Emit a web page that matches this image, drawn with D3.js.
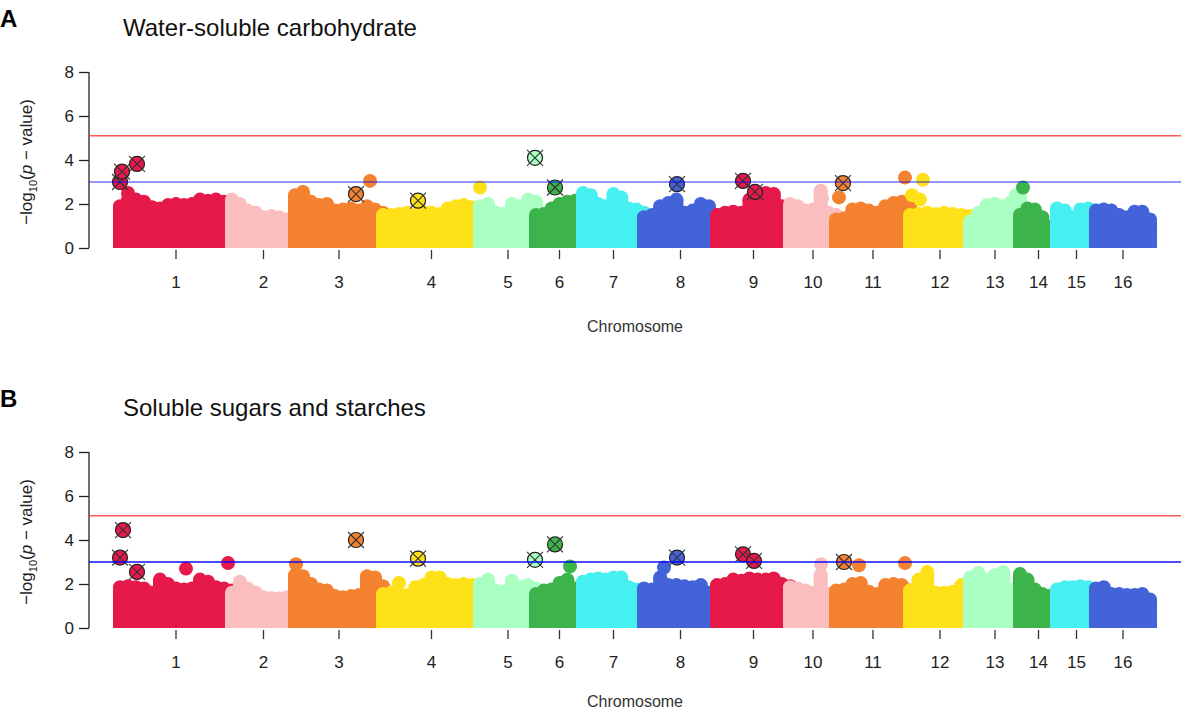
<!DOCTYPE html>
<html>
<head>
<meta charset="utf-8">
<script src="https://cdn.jsdelivr.net/npm/d3@7"></script>
<style>
  body { margin: 0; background: #fff; }
  text { font-family: "Liberation Sans", Arial, sans-serif; }
</style>
</head>
<body>
<script>
// chromosome names and lengths (Mb)
var chrNames = ["1","2","3","4","5","6","7","8","9","10","11","12","13","14","15","16"];
var chrLength = [112, 63, 88, 97, 56, 47, 61, 73, 73, 46, 74, 60, 50, 37, 39, 54];
var chrColors = ["#e6194b", "#fabebe", "#f58231", "#ffe119", "#aaffc3", "#3cb44b", "#46f0f0", "#4363d8"];
var yTicks = [0, 2, 4, 6, 8];
var redLine = 5.1;
var blueLine = 3.0;

// A: water-soluble carbohydrate, top of the point cloud along each chromosome
var wscEnvelope = [
    [1.9, 2.2, 2.2, 2.1, 1.85, 1.8, 1.95, 2.0, 1.95, 2.0, 2.2, 2.15, 2.2, 2.1, 1.9],
    [2.2, 2.0, 1.7, 1.6, 1.4, 1.45, 1.4, 1.3, 1.2],
    [2.4, 2.55, 2.1, 1.95, 2.0, 1.7, 1.75, 1.8, 1.7, 1.9, 1.75, 1.6],
    [1.5, 1.5, 1.55, 1.6, 1.5, 1.65, 1.6, 1.55, 1.8, 1.9, 1.95, 1.85, 1.7],
    [1.9, 2.0, 1.6, 1.55, 2.0, 1.9, 2.2, 2.1],
    [1.5, 1.55, 1.8, 2.0, 2.1, 2.15, 1.9],
    [2.5, 2.4, 2.0, 1.9, 2.45, 2.3, 1.8, 1.75, 1.6],
    [1.4, 1.5, 1.9, 2.05, 2.2, 1.6, 1.7, 2.0, 1.9, 1.5],
    [1.5, 1.6, 1.65, 1.6, 2.2, 2.4, 2.5, 2.45, 1.9, 1.7],
    [2.0, 1.9, 1.7, 1.75, 2.6, 1.6, 1.5],
    [1.3, 1.35, 1.75, 1.8, 1.7, 1.6, 1.9, 2.05, 2.1, 1.9],
    [1.5, 1.55, 1.6, 1.55, 1.6, 1.55, 1.5, 1.45],
    [1.2, 1.6, 1.95, 2.0, 1.9, 2.1, 2.35],
    [1.5, 1.8, 1.75, 1.4, 0.95, 1.0],
    [1.8, 1.7, 1.4, 1.75, 1.8, 1.7],
    [1.7, 1.75, 1.7, 1.5, 1.4, 1.65, 1.65, 1.3]
];
// [chromosome, position (Mb), -log10 p]
var wscPeaks = [
    [1, 8, 2.5], [3, 75, 3.05], [4, 97, 2.75], [10, 32, 2.25], [11, 3, 2.3], [11, 69, 3.2],
    [12, 2, 2.4], [12, 10, 2.2], [12, 13, 3.1], [13, 46, 2.4], [14, 3, 2.75]
];
var wscSignif = [
    [1, 0, 3.0], [1, 2, 3.47], [1, 17, 3.82], [3, 61, 2.45], [4, 35, 2.15], [5, 55, 4.1],
    [6, 19, 2.75], [8, 33, 2.9], [9, 26, 3.05], [9, 38, 2.55], [11, 7, 2.95]
];

// B: soluble sugars and starches
var sssEnvelope = [
    [1.85, 1.9, 1.85, 1.8, 1.6, 2.2, 2.0, 1.8, 1.75, 1.8, 2.2, 2.1, 1.85, 1.8, 1.7],
    [1.6, 2.1, 1.8, 1.6, 1.4, 1.35, 1.35, 1.4, 1.3],
    [2.4, 2.35, 2.0, 1.75, 1.7, 1.45, 1.4, 1.45, 1.5, 2.35, 2.3, 1.9],
    [1.55, 1.6, 1.55, 1.5, 1.85, 1.95, 2.3, 2.3, 2.0, 1.95, 2.0, 1.95, 1.9],
    [2.0, 2.2, 1.7, 1.65, 2.15, 1.85, 1.95, 1.8],
    [1.55, 1.7, 1.75, 2.05, 2.2, 1.8, 1.6],
    [2.1, 2.2, 2.25, 2.2, 2.3, 2.3, 1.85, 1.75, 1.6],
    [1.8, 1.75, 2.3, 1.95, 1.95, 1.9, 1.85, 1.95, 1.6, 1.5],
    [1.95, 2.0, 2.2, 2.15, 2.25, 2.2, 2.2, 2.25, 2.0, 1.9],
    [1.85, 1.8, 1.7, 1.6, 2.4, 1.55, 1.5],
    [1.7, 1.75, 2.0, 2.05, 1.65, 1.55, 1.95, 2.0, 1.95, 1.7],
    [1.7, 2.2, 2.55, 1.6, 1.6, 1.65, 1.95, 1.9],
    [2.3, 2.5, 2.2, 2.4, 2.55, 1.75, 1.7],
    [2.45, 2.2, 1.75, 1.55, 1.45, 1.6],
    [1.75, 1.85, 1.85, 1.9, 1.85, 1.7],
    [1.8, 1.85, 1.55, 1.55, 1.5, 1.5, 1.55, 1.3]
];
var sssPeaks = [
    [1, 66, 2.7], [1, 108, 2.95], [3, 1, 2.9], [4, 16, 2.05], [6, 34, 2.8], [8, 20, 2.75],
    [10, 31, 2.9], [11, 23, 2.85], [11, 69, 2.95]
];
var sssSignif = [
    [1, 3, 4.45], [1, 0, 3.2], [1, 17, 2.55], [3, 61, 4.0], [4, 35, 3.15], [5, 55, 3.1],
    [6, 19, 3.8], [8, 33, 3.2], [9, 26, 3.35], [9, 37, 3.05], [11, 8, 3.0]
];

var w = 1181,
    h = 711,
    r = 7;

// cumulative chromosome offsets
var chrStart = [];
var total = 0;
chrLength.forEach(function(l) {
    chrStart.push(total);
    total += l;
});

var x = d3.scaleLinear().domain([0, total]).range([120, 1150]);
var col = function(c) { return chrColors[(c - 1) % chrColors.length]; };
var gx = function(c, pos) { return x(chrStart[c - 1] + pos); };

var svg = d3.select("body")
    .append("svg")
    .attr("width", w)
    .attr("height", h);

var drawPanel = function(opts) {
    var y = d3.scaleLinear().domain([0, 8]).range([opts.y0, opts.y0 - 176]);
    var g = svg.append("g");

    // panel letter and title
    g.append("text")
        .attr("x", 0).attr("y", opts.y0 - 221)
        .style("font-size", "24px").style("font-weight", "bold")
        .text(opts.letter);
    g.append("text")
        .attr("x", 123).attr("y", opts.y0 - 212)
        .style("font-size", "24px").attr("fill", "#111")
        .text(opts.title);

    // y axis
    var yAxis = d3.axisLeft(y).tickValues(yTicks).tickSize(10).tickPadding(5);
    var ya = g.append("g").attr("transform", "translate(89,0)").call(yAxis);
    ya.select(".domain").attr("d", "M0," + y(8) + "V" + y(0)).attr("stroke", "#222").attr("stroke-width", 1.3);
    ya.selectAll(".tick line").attr("stroke", "#222").attr("stroke-width", 1.3);
    ya.selectAll(".tick text").style("font-size", "17px").attr("fill", "#222")
        .style("font-family", "'Liberation Sans', Arial, sans-serif");

    var lab = g.append("text")
        .attr("transform", "translate(32," + (opts.y0 - 86) + ") rotate(-90)")
        .attr("text-anchor", "middle")
        .style("font-size", "17px").attr("fill", "#222");
    lab.append("tspan").text("\u2212log");
    lab.append("tspan").attr("dy", 5).style("font-size", "11px").text("10");
    lab.append("tspan").attr("dy", -5).text("(");
    lab.append("tspan").style("font-style", "italic").text("p");
    lab.append("tspan").text(" \u2212 value)");

    // point clouds per chromosome
    opts.envelope.forEach(function(vals, ci) {
        var c = ci + 1;
        var pts = vals.map(function(v, i) {
            return { c: c, pos: chrLength[ci] * i / (vals.length - 1), v: v };
        });
        var cg = g.append("g").attr("fill", col(c));
        cg.selectAll("rect")
            .data(pts)
            .enter()
            .append("rect")
            .attr("x", function(d) { return gx(d.c, d.pos) - r; })
            .attr("width", 2 * r)
            .attr("y", function(d) { return y(d.v); })
            .attr("height", function(d) { return y(0) - y(d.v); });
        cg.selectAll("circle")
            .data(pts.concat(opts.peaks.filter(function(p) { return p[0] === c; })
                .map(function(p) { return { c: p[0], pos: p[1], v: p[2] }; })))
            .enter()
            .append("circle")
            .attr("cx", function(d) { return gx(d.c, d.pos); })
            .attr("cy", function(d) { return y(d.v); })
            .attr("r", r);
    });

    // highlighted SNPs
    var sg = g.selectAll("g.sig")
        .data(opts.signif)
        .enter()
        .append("g")
        .attr("class", "sig")
        .attr("transform", function(d) { return "translate(" + gx(d[0], d[1]) + "," + y(d[2]) + ")"; });
    sg.append("circle")
        .attr("r", 7.5)
        .attr("fill", function(d) { return col(d[0]); })
        .attr("stroke", "#222")
        .attr("stroke-width", 1.2);
    sg.append("path")
        .attr("d", "M-8,-8L8,8M-8,8L8,-8")
        .attr("stroke", "#333")
        .attr("stroke-width", 1.1);

    // threshold lines
    g.append("line")
        .attr("x1", 89).attr("x2", w)
        .attr("y1", y(redLine)).attr("y2", y(redLine))
        .attr("stroke", "#ff3b3b").attr("stroke-opacity", 0.85).attr("stroke-width", 1.6);
    g.append("line")
        .attr("x1", 89).attr("x2", w)
        .attr("y1", y(blueLine)).attr("y2", y(blueLine))
        .attr("stroke", "#0000ff").attr("stroke-opacity", opts.blueOpacity).attr("stroke-width", 1.6);

    // chromosome ticks
    var xt = g.append("g");
    xt.selectAll("line")
        .data(chrNames)
        .enter()
        .append("line")
        .attr("x1", function(d, i) { return x(chrStart[i] + chrLength[i] / 2); })
        .attr("x2", function(d, i) { return x(chrStart[i] + chrLength[i] / 2); })
        .attr("y1", opts.y0 + 2)
        .attr("y2", opts.y0 + 11)
        .attr("stroke", "#333")
        .attr("stroke-width", 1.3);
    xt.selectAll("text")
        .data(chrNames)
        .enter()
        .append("text")
        .attr("x", function(d, i) { return x(chrStart[i] + chrLength[i] / 2); })
        .attr("y", opts.y0 + 40)
        .attr("text-anchor", "middle")
        .style("font-size", "17px").attr("fill", "#222")
        .text(function(d) { return d; });

    g.append("text")
        .attr("x", 635).attr("y", opts.y0 + opts.xlabOffset)
        .attr("text-anchor", "middle")
        .style("font-size", "16px").attr("fill", "#333")
        .text("Chromosome");
};

drawPanel({ letter: "A", title: "Water-soluble carbohydrate", y0: 248, xlabOffset: 84,
    envelope: wscEnvelope, peaks: wscPeaks, signif: wscSignif, blueOpacity: 0.55 });
drawPanel({ letter: "B", title: "Soluble sugars and starches", y0: 628, xlabOffset: 79,
    envelope: sssEnvelope, peaks: sssPeaks, signif: sssSignif, blueOpacity: 0.95 });
</script>
</body>
</html>
